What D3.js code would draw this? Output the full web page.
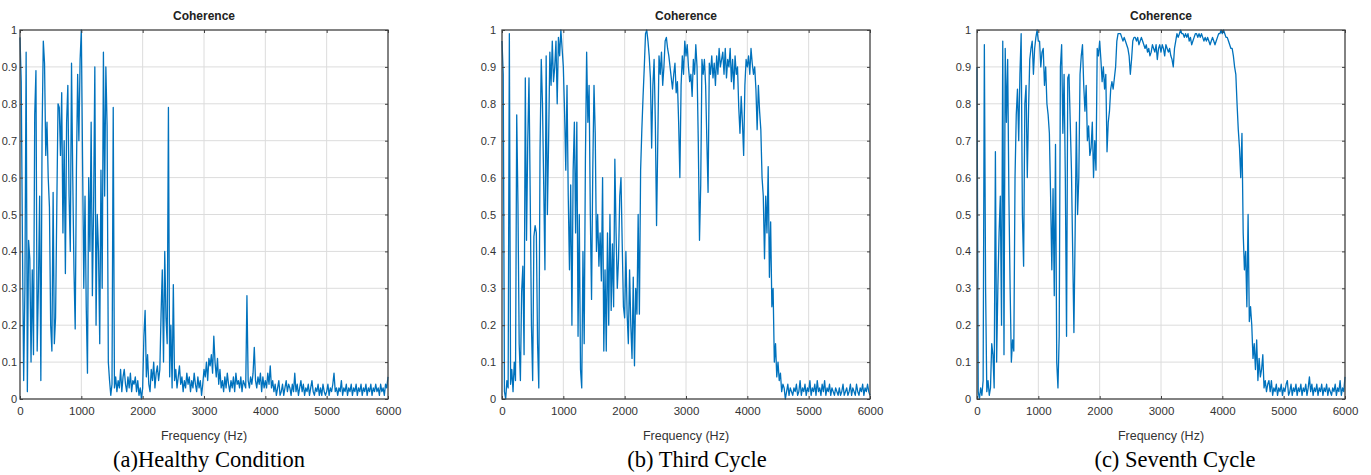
<!DOCTYPE html>
<html>
<head>
<meta charset="utf-8">
<script src="https://cdn.jsdelivr.net/npm/d3@7"></script>
<style>
  body { margin: 0; background: #fff; }
  svg { display: block; }
</style>
</head>
<body>
<script>
// coherence values every 20 Hz, 0..6000 Hz
const healthy = [
  0.98, 0.86, 0.42, 0.05, 0.30,  0.94, 0.02, 0.43, 0.38, 0.10,
  0.35, 0.12, 0.77, 0.89, 0.13,  0.30, 0.55, 0.05, 0.72, 0.97,
  0.91, 0.66, 0.75, 0.60, 0.52,  0.20, 0.13, 0.56, 0.15, 0.22,
  0.52, 0.80, 0.79, 0.66, 0.83,  0.45, 0.70, 0.34, 0.75, 0.85,
  0.55, 0.40, 0.91, 0.60, 0.35,  0.19, 0.62, 0.88, 0.70, 0.92,
  1.00, 0.65, 0.30, 0.55, 0.25,  0.07, 0.60, 0.40, 0.75, 0.28,
  0.52, 0.90, 0.20, 0.50, 0.40,  0.15, 0.62, 0.30, 0.94, 0.55,
  0.90, 0.74, 0.10, 0.05, 0.01,  0.04, 0.79, 0.03, 0.06, 0.02,
  0.05, 0.03, 0.08, 0.02, 0.06,  0.08, 0.04, 0.02, 0.06, 0.03,
  0.07, 0.02, 0.05, 0.04, 0.06,  0.02, 0.05, 0.01, 0.03, 0.00,
  0.03, 0.17, 0.24, 0.06, 0.12,  0.04, 0.02, 0.08, 0.05, 0.10,
  0.03, 0.07, 0.09, 0.05, 0.08,  0.23, 0.35, 0.10, 0.40, 0.22,
  0.15, 0.79, 0.06, 0.20, 0.03,  0.31, 0.05, 0.08, 0.03, 0.06,
  0.09, 0.04, 0.06, 0.02, 0.05,  0.03, 0.07, 0.04, 0.06, 0.02,
  0.05, 0.03, 0.07, 0.04, 0.02,  0.06, 0.03, 0.05, 0.01, 0.04,
  0.08, 0.06, 0.10, 0.05, 0.11,  0.09, 0.12, 0.07, 0.17, 0.10,
  0.06, 0.11, 0.04, 0.08, 0.03,  0.05, 0.02, 0.06, 0.03, 0.07,
  0.04, 0.02, 0.05, 0.03, 0.06,  0.02, 0.07, 0.04, 0.05, 0.03,
  0.06, 0.02, 0.05, 0.04, 0.03,  0.28, 0.05, 0.03, 0.06, 0.04,
  0.07, 0.14, 0.05, 0.03, 0.06,  0.04, 0.07, 0.02, 0.06, 0.03,
  0.05, 0.03, 0.07, 0.04, 0.09,  0.03, 0.05, 0.02, 0.04, 0.01,
  0.03, 0.05, 0.01, 0.02, 0.04,  0.01, 0.03, 0.05, 0.02, 0.04,
  0.03, 0.01, 0.04, 0.02, 0.07,  0.02, 0.04, 0.01, 0.03, 0.05,
  0.02, 0.04, 0.01, 0.03, 0.02,  0.04, 0.01, 0.03, 0.05, 0.02,
  0.01, 0.03, 0.02, 0.04, 0.01,  0.03, 0.01, 0.04, 0.02, 0.01,
  0.02, 0.04, 0.01, 0.03, 0.02,  0.04, 0.07, 0.02, 0.03, 0.01,
  0.03, 0.02, 0.05, 0.01, 0.03,  0.02, 0.04, 0.01, 0.03, 0.02,
  0.04, 0.01, 0.03, 0.02, 0.04,  0.01, 0.03, 0.02, 0.04, 0.01,
  0.03, 0.02, 0.04, 0.01, 0.03,  0.02, 0.04, 0.01, 0.03, 0.02,
  0.04, 0.02, 0.03, 0.01, 0.04,  0.02, 0.03, 0.01, 0.04, 0.03,
  0.06
];

const thirdCycle = [
  0.97, 0.88, 0.02, 0.00, 0.05,  0.03, 0.99, 0.04, 0.08, 0.02,
  0.10, 0.05, 0.77, 0.53, 0.15,  0.05, 0.29, 0.36, 0.12, 0.87,
  0.43, 0.70, 0.87, 0.55, 0.20,  0.05, 0.44, 0.47, 0.45, 0.15,
  0.03, 0.67, 0.92, 0.80, 0.58,  0.35, 0.93, 0.50, 0.70, 0.94,
  0.85, 0.97, 0.86, 0.90, 0.97,  0.80, 0.98, 0.93, 1.00, 0.95,
  0.90, 0.78, 0.62, 0.85, 0.55,  0.35, 0.58, 0.20, 0.62, 0.75,
  0.45, 0.75, 0.17, 0.50, 0.08,  0.03, 0.40, 0.15, 0.65, 0.94,
  0.75, 0.85, 0.50, 0.27, 0.62,  0.85, 0.72, 0.40, 0.50, 0.36,
  0.45, 0.32, 0.60, 0.13, 0.35,  0.13, 0.45, 0.20, 0.50, 0.24,
  0.42, 0.25, 0.65, 0.45, 0.30,  0.38, 0.55, 0.60, 0.42, 0.25,
  0.22, 0.40, 0.23, 0.15, 0.35,  0.20, 0.11, 0.33, 0.09, 0.30,
  0.23, 0.50, 0.23, 0.62, 0.73,  0.82, 0.90, 0.99, 1.00, 0.97,
  0.93, 0.87, 0.68, 0.85, 0.92,  0.75, 0.47, 0.70, 0.93, 0.88,
  0.94, 0.85, 0.90, 0.97, 0.98,  0.95, 0.93, 0.90, 0.87, 0.84,
  0.88, 0.91, 0.83, 0.86, 0.75,  0.60, 0.85, 0.93, 0.88, 0.97,
  0.93, 0.96, 0.90, 0.86, 0.88,  0.82, 0.92, 0.88, 0.96, 0.90,
  0.70, 0.43, 0.58, 0.92, 0.88,  0.92, 0.85, 0.70, 0.56, 0.91,
  0.88, 0.93, 0.87, 0.91, 0.85,  0.93, 0.88, 0.95, 0.90, 0.92,
  0.94, 0.88, 0.95, 0.87, 0.92,  0.90, 0.95, 0.86, 0.92, 0.84,
  0.93, 0.88, 0.90, 0.79, 0.72,  0.82, 0.75, 0.66, 0.85, 0.92,
  0.90, 0.93, 0.88, 0.95, 0.91,  0.88, 0.90, 0.84, 0.73, 0.85,
  0.78, 0.73, 0.60, 0.55, 0.38,  0.55, 0.45, 0.63, 0.33, 0.48,
  0.25, 0.30, 0.10, 0.15, 0.06,  0.10, 0.05, 0.07, 0.02, 0.04,
  0.03, 0.00, 0.02, 0.04, 0.01,  0.03, 0.02, 0.01, 0.03, 0.02,
  0.04, 0.01, 0.02, 0.05, 0.01,  0.03, 0.02, 0.04, 0.01, 0.03,
  0.02, 0.05, 0.01, 0.03, 0.02,  0.04, 0.01, 0.05, 0.02, 0.03,
  0.01, 0.04, 0.02, 0.05, 0.01,  0.03, 0.02, 0.04, 0.01, 0.03,
  0.02, 0.01, 0.03, 0.02, 0.01,  0.03, 0.01, 0.02, 0.04, 0.01,
  0.02, 0.03, 0.01, 0.02, 0.04,  0.01, 0.03, 0.02, 0.01, 0.04,
  0.02, 0.01, 0.03, 0.02, 0.04,  0.01, 0.03, 0.02, 0.04, 0.02,
  0.01
];

const seventhCycle = [
  0.90, 0.02, 0.00, 0.03, 0.01,  0.05, 0.96, 0.30, 0.02, 0.05,
  0.01, 0.03, 0.15, 0.12, 0.03,  0.67, 0.10, 0.30, 0.45, 0.55,
  0.20, 0.97, 0.12, 0.95, 0.75,  0.92, 0.55, 0.30, 0.10, 0.16,
  0.13, 0.60, 0.77, 0.84, 0.70,  0.88, 0.99, 0.50, 0.36, 0.80,
  0.85, 0.60, 0.78, 0.92, 0.95,  0.97, 0.88, 0.95, 0.98, 1.00,
  0.97, 0.97, 0.90, 0.94, 0.95,  0.85, 0.90, 0.80, 0.77, 0.72,
  0.55, 0.35, 0.57, 0.28, 0.69,  0.10, 0.03, 0.17, 0.90, 0.96,
  0.72, 0.88, 0.60, 0.17, 0.87,  0.88, 0.75, 0.62, 0.40, 0.18,
  0.45, 0.75, 0.50, 0.60, 0.88,  0.93, 0.96, 0.85, 0.78, 0.85,
  0.70, 0.74, 0.66, 0.68, 0.75,  0.60, 0.70, 0.62, 0.95, 0.93,
  0.97, 0.92, 0.86, 0.90, 0.84,  0.88, 0.67, 0.75, 0.78, 0.84,
  0.86, 0.84, 0.87, 0.90, 0.97,  0.99, 0.99, 0.99, 0.98, 0.97,
  0.98, 0.97, 0.96, 0.95, 0.93,  0.88, 0.92, 0.97, 0.98, 0.98,
  0.97, 0.98, 0.96, 0.97, 0.98,  0.97, 0.96, 0.95, 0.96, 0.94,
  0.95, 0.93, 0.94, 0.96, 0.95,  0.94, 0.96, 0.92, 0.95, 0.96,
  0.94, 0.96, 0.95, 0.93, 0.96,  0.95, 0.94, 0.95, 0.93, 0.92,
  0.90, 0.95, 0.97, 0.99, 0.98,  0.99, 1.00, 0.99, 0.99, 0.98,
  0.99, 0.98, 0.99, 0.97, 0.98,  0.96, 0.97, 0.98, 0.99, 0.99,
  0.98, 0.99, 0.98, 0.99, 0.98,  0.97, 0.98, 0.97, 0.98, 0.97,
  0.96, 0.97, 0.98, 0.97, 0.96,  0.97, 0.98, 0.99, 0.99, 1.00,
  0.99, 1.00, 0.99, 0.98, 0.98,  0.97, 0.96, 0.95, 0.95, 0.93,
  0.90, 0.88, 0.80, 0.73, 0.68,  0.60, 0.72, 0.45, 0.35, 0.40,
  0.25, 0.50, 0.21, 0.25, 0.20,  0.11, 0.15, 0.08, 0.16, 0.05,
  0.11, 0.06, 0.08, 0.12, 0.03,  0.05, 0.02, 0.04, 0.05, 0.02,
  0.05, 0.01, 0.03, 0.02, 0.04,  0.01, 0.03, 0.02, 0.04, 0.01,
  0.03, 0.02, 0.04, 0.05, 0.01,  0.02, 0.04, 0.01, 0.03, 0.02,
  0.04, 0.01, 0.03, 0.02, 0.04,  0.01, 0.03, 0.02, 0.04, 0.01,
  0.03, 0.06, 0.02, 0.04, 0.01,  0.03, 0.02, 0.04, 0.01, 0.03,
  0.02, 0.04, 0.01, 0.03, 0.02,  0.04, 0.01, 0.03, 0.02, 0.01,
  0.03, 0.02, 0.04, 0.01, 0.03,  0.02, 0.05, 0.01, 0.03, 0.02,
  0.06
];

const binHz = 20;
const xTicks = [0, 1000, 2000, 3000, 4000, 5000, 6000];
const yTicks = [0, 0.1, 0.2, 0.3, 0.4, 0.5, 0.6, 0.7, 0.8, 0.9, 1];
const captions = ["(a)Healthy Condition", "(b) Third Cycle", "(c) Seventh Cycle"];
const series = [healthy, thirdCycle, seventhCycle];

var width = 1371, height = 475;
var plotW = 368, plotTop = 30, plotH = 369;
var lefts = [20, 502, 977];
var yPad = [3, 6, 6];
var captionShift = [5, 11, 14];

var svg = d3.select("body")
    .append("svg")
    .attr("width", width)
    .attr("height", height);

series.forEach((vals, i) => {
    var g = svg.append("g")
        .attr("transform", `translate(${lefts[i]}, ${plotTop})`);

    const x = d3.scaleLinear().domain([0, 6000]).range([0, plotW]);
    const y = d3.scaleLinear().domain([0, 1]).range([plotH, 0]);

    // grid
    g.append("g").selectAll("line")
        .data(xTicks.slice(1, -1))
        .enter().append("line")
        .attr("x1", d => x(d)).attr("x2", d => x(d))
        .attr("y1", 0).attr("y2", plotH)
        .attr("stroke", "#dcdcdc").attr("stroke-width", 1);
    g.append("g").selectAll("line")
        .data(yTicks.slice(1, -1))
        .enter().append("line")
        .attr("x1", 0).attr("x2", plotW)
        .attr("y1", d => y(d)).attr("y2", d => y(d))
        .attr("stroke", "#dcdcdc").attr("stroke-width", 1);

    // data line
    var line = d3.line()
        .x((d, j) => x(j * binHz))
        .y(d => y(d));
    g.append("path")
        .datum(vals)
        .attr("fill", "none")
        .attr("stroke", "#0072BD")
        .attr("stroke-width", 1.3)
        .attr("stroke-linejoin", "round")
        .attr("d", line);

    // axes with inward ticks
    var xAxis = d3.axisBottom(x).tickValues(xTicks).tickSize(-3).tickPadding(8).tickFormat(d3.format("d"));
    var yAxis = d3.axisLeft(y).tickValues(yTicks).tickSize(-3).tickPadding(yPad[i]).tickFormat(d => d === 0 || d === 1 ? d : d3.format(".1f")(d));

    var gx = g.append("g").attr("transform", `translate(0, ${plotH})`).call(xAxis);
    var gy = g.append("g").call(yAxis);
    g.append("g").call(d3.axisTop(x).tickValues(xTicks).tickSize(-3).tickFormat(""));
    g.append("g").attr("transform", `translate(${plotW}, 0)`).call(d3.axisRight(y).tickValues(yTicks).tickSize(-3).tickFormat(""));

    g.selectAll(".domain").remove();
    g.selectAll(".tick line").attr("stroke", "#404040");
    g.selectAll(".tick text")
        .attr("fill", "#333")
        .style("font-family", "Liberation Sans, Arial, sans-serif");
    gx.selectAll(".tick text").style("font-size", "11.5px");
    gy.selectAll(".tick text").style("font-size", "11px");

    g.append("rect")
        .attr("x", 0).attr("y", 0)
        .attr("width", plotW).attr("height", plotH)
        .attr("fill", "none")
        .attr("stroke", "#404040")
        .attr("stroke-width", 1.3);

    g.append("text")
        .attr("x", plotW / 2)
        .attr("y", -10)
        .attr("text-anchor", "middle")
        .style("font-family", "Liberation Sans, Arial, sans-serif")
        .style("font-size", "12px")
        .style("font-weight", "bold")
        .attr("fill", "#222")
        .text("Coherence");

    g.append("text")
        .attr("x", plotW / 2)
        .attr("y", plotH + 41)
        .attr("text-anchor", "middle")
        .style("font-family", "Liberation Sans, Arial, sans-serif")
        .style("font-size", "12.5px")
        .attr("fill", "#333")
        .text("Frequency (Hz)");

    g.append("text")
        .attr("x", plotW / 2 + captionShift[i])
        .attr("y", plotH + 68)
        .attr("text-anchor", "middle")
        .style("font-family", "Liberation Serif, Times New Roman, serif")
        .style("font-size", "22.5px")
        .attr("fill", "#000")
        .text(captions[i]);
});
</script>
</body>
</html>
